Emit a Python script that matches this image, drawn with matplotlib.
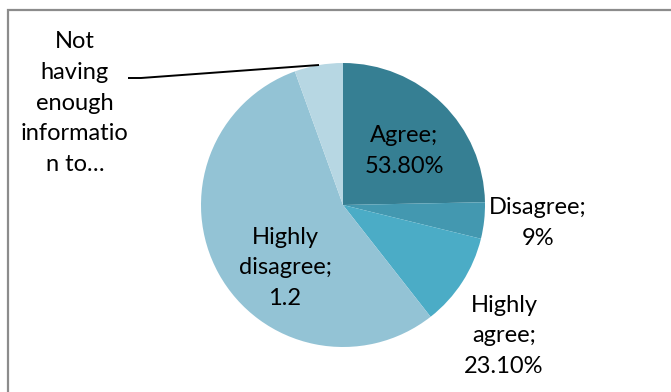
import matplotlib.pyplot as plt
from matplotlib.patches import Rectangle

# survey answers and their raw values (the pie normalises them)
categories = ["Agree", "Disagree", "Highly agree", "Highly disagree",
              "Not having enough information to\u2026"]
values = [0.538, 0.09, 0.231, 1.2, 0.12]
value_fmt = ["{:.2%}", "{:.0%}", "{:.2%}", "{:g}", None]
colors = ["#367f93", "#4398b0", "#4bacc6", "#93c3d5", "#b7d7e3"]

W, H = 671, 392
fig = plt.figure(figsize=(W / 100, H / 100), dpi=100)
ax = fig.add_axes([0, 0, 1, 1])

# chart frame, cut off at right and bottom
fig.patches.append(Rectangle((8 / W, -0.1), 1.2, (H - 10) / H + 0.1, transform=fig.transFigure,
                             fill=False, edgecolor="#8c8c8c", linewidth=1.6))

cx, cy, r = 343, H - 205, 142
ax.pie(values, colors=colors, startangle=90, counterclock=False,
       center=(cx, cy), radius=r, frame=True,
       wedgeprops=dict(linewidth=0))
ax.set_xlim(0, W)
ax.set_ylim(0, H)
ax.set_aspect("equal")
ax.axis("off")


def label_text(i):
    if value_fmt[i] is None:
        return "Not\nhaving\nenough\ninformatio\nn to\u2026"
    name = categories[i].replace(" ", "\n")
    return name + ";\n" + value_fmt[i].format(values[i])


# label centres in pixel space (x right, y down)
label_pos = [(404, 151), (538, 223), (504, 336), (285, 268), (75, 103)]
for i, (lx, ly) in enumerate(label_pos):
    ax.text(lx, H - ly, label_text(i), ha="center", va="center",
            fontsize=17, family="Lato", color="black", linespacing=1.58)

# leader line for the small slice
ax.plot([128, 141, 319], [H - 78, H - 78, H - 65], color="black", linewidth=1.4,
        solid_capstyle="butt")

fig.savefig("out.png", dpi=100)
